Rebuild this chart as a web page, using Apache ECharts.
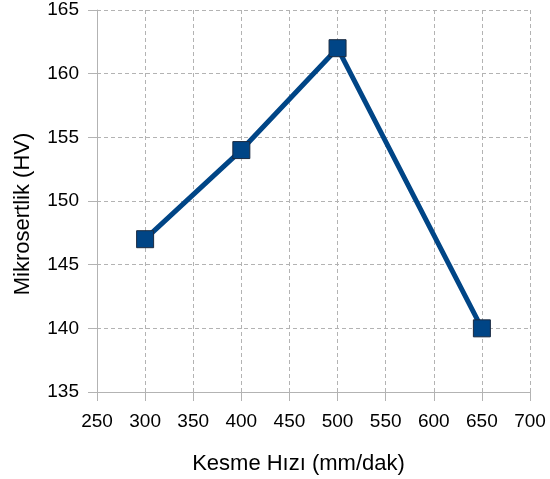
<!DOCTYPE html>
<html>
<head>
<meta charset="utf-8">
<script src="https://cdn.jsdelivr.net/npm/echarts@6/dist/echarts.min.js"></script>
<style>
  html, body { margin: 0; padding: 0; background: #fff; }
  #chart { width: 550px; height: 479px; }
</style>
</head>
<body>
<div id="chart"></div>
<script>
// cutting speed (mm/dak) vs microhardness (HV)
var speeds = [300, 400, 500, 650];
var hardness = [147, 154, 162, 140];

var lineColor = '#004586';
var gridColor = '#b3b3b3';
var font = '"Liberation Sans", Arial, sans-serif';

var chart = echarts.init(document.getElementById('chart'));

var axisCommon = {
  axisLine: { show: true, lineStyle: { color: gridColor, width: 1 } },
  axisTick: { show: true, length: 9, lineStyle: { color: gridColor } },
  axisLabel: { color: '#000', fontSize: 19, fontFamily: font },
  splitLine: { show: true, lineStyle: { color: gridColor, type: [4, 3] } },
  nameTextStyle: { color: '#000', fontSize: 22, fontFamily: font }
};

chart.setOption({
  animation: false,
  backgroundColor: '#fff',
  grid: { left: 97, right: 20, top: 10, bottom: 87, outerBoundsMode: 'none', containLabel: false },
  xAxis: Object.assign({}, axisCommon, {
    type: 'value',
    min: 250,
    max: 700,
    interval: 50,
    name: 'Kesme Hızı (mm/dak)',
    nameLocation: 'middle',
    nameGap: 61,
    nameTextStyle: Object.assign({}, axisCommon.nameTextStyle, { padding: [0, 30, 0, 0] }),
    axisLabel: Object.assign({}, axisCommon.axisLabel, { margin: 20 })
  }),
  yAxis: Object.assign({}, axisCommon, {
    type: 'value',
    min: 135,
    max: 165,
    interval: 5,
    name: 'Mikrosertlik (HV)',
    nameLocation: 'middle',
    nameGap: 63,
    nameTextStyle: Object.assign({}, axisCommon.nameTextStyle, { padding: [0, 26, 0, 0] }),
    axisLabel: Object.assign({}, axisCommon.axisLabel, { margin: 18 })
  }),
  series: [{
    type: 'line',
    data: speeds.map(function(s, i) { return [s, hardness[i]]; }),
    symbol: 'rect',
    symbolSize: 17,
    lineStyle: { color: lineColor, width: 5 },
    itemStyle: { color: lineColor, borderColor: '#1a2a40', borderWidth: 1 }
  }]
});
</script>
</body>
</html>
